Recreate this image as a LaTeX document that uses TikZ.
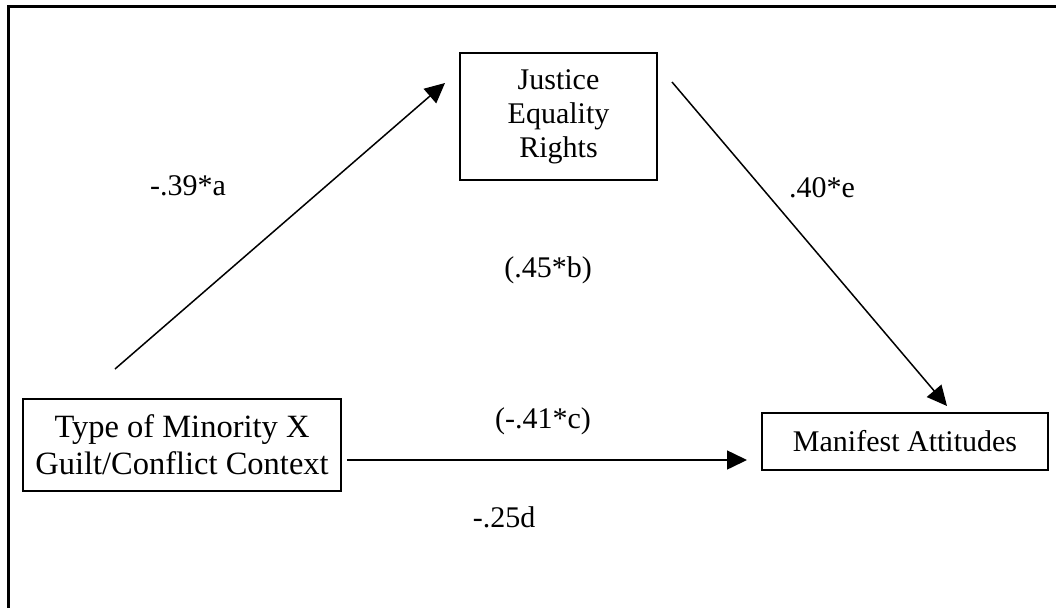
\documentclass[tikz,border=0pt]{standalone}
\usepackage{fontspec}
\setmainfont{Liberation Serif}
\usetikzlibrary{arrows.meta}

\begin{document}
\begin{tikzpicture}[x=1pt,y=-1pt,
    box/.style={draw,line width=1.6pt,inner sep=0pt,align=center,
        font=\fontsize{30}{34}\selectfont},
    lbl/.style={font=\fontsize{30}{34}\selectfont,inner sep=0pt},
    arr/.style={line width=1.5pt,-{Triangle[length=20pt,width=19pt]}}]

    \useasboundingbox (0,0) rectangle (1056,607);
    % outer frame, cut off at right and bottom
    \draw[line width=3pt] (8.5,620) -- (8.5,7) -- (1070,7);

    \node[box,minimum width=197pt,minimum height=127pt] (just) at (558.5,116.5) {Justice\\Equality\\Rights};
    \node[box,minimum width=318pt,minimum height=92pt,font=\fontsize{32.5}{37}\selectfont] (mino) at (182,445) {Type of Minority X\\Guilt/Conflict Context};
    \node[box,minimum width=286pt,minimum height=57pt] (mani) at (905,441.5) {Manifest Attitudes};

    \coordinate (a1) at (115,369);
    \coordinate (a2) at (445,83);
    \coordinate (e1) at (672,82);
    \coordinate (e2) at (947,406);
    \coordinate (c1) at (347,460);
    \coordinate (c2) at (747,460);

    \draw[arr] (a1) -- (a2);
    \draw[arr] (e1) -- (e2);
    \draw[arr] (c1) -- (c2);

    \node[lbl] (la) at (188,186) {-.39*a};
    \node[lbl] (le) at (822,188) {.40*e};
    \node[lbl] (lb) at (548,270) {(.45*b)};
    \node[lbl] (lc) at (543,421) {(-.41*c)};
    \node[lbl] (ld) at (504,517) {-.25d};
\end{tikzpicture}
\end{document}
